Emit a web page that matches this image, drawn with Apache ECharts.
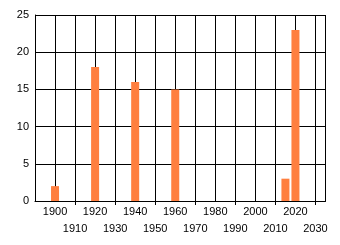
<!DOCTYPE html>
<html><head><meta charset="utf-8">
<script src="https://cdn.jsdelivr.net/npm/echarts@6/dist/echarts.min.js"></script>
<style>html,body{margin:0;padding:0;background:#fff}#c{width:340px;height:245px}</style>
</head><body><div id="c"></div>
<script>
var years = [1900, 1920, 1940, 1960, 2015, 2020];
var values = [2, 18, 16, 15, 3, 23];
var tickYears = [1910, 1930, 1950, 1970, 1990, 2010, 2030];
var xMin = 1890, xMax = 2035, xStep = 10;
var yMin = 0, yMax = 25, yStep = 5;

var chart = echarts.init(document.getElementById('c'), null, {renderer: 'canvas'});
var font = 'Liberation Sans';
chart.setOption({
  animation: false,
  grid: {left: 35, right: 14.5, top: 15, bottom: 44},
  xAxis: {
    type: 'value', min: xMin, max: xMax, interval: xStep,
    axisLine: {show: true, onZero: false, lineStyle: {color: '#000', width: 1}},
    axisTick: {show: false},
    splitLine: {show: true, lineStyle: {color: '#000', width: 1}},
    axisLabel: {
      margin: 2, fontSize: 11, fontFamily: font, color: '#000', lineHeight: 17,
      showMaxLabel: false, showMinLabel: false,
      formatter: function (v) {
        if (v < 1900 || v > 2030 || v % 10 !== 0) return '';
        return ((v / 10) % 2 === 1) ? '\n' + v : '' + v;
      }
    }
  },
  yAxis: {
    type: 'value', min: yMin, max: yMax, interval: yStep,
    axisLine: {show: true, lineStyle: {color: '#000', width: 1}},
    axisTick: {show: false},
    splitLine: {show: true, lineStyle: {color: '#000', width: 1}},
    axisLabel: {margin: 6, fontSize: 11, fontFamily: font, color: '#000'}
  },
  series: [{
    type: 'bar', barWidth: 8,
    itemStyle: {color: '#ff7f3f'},
    data: years.map(function (y, i) { return [y, values[i]]; })
  }, {
    type: 'custom', clip: false, silent: true,
    data: tickYears.map(function (y) { return [y, 0]; }),
    renderItem: function (params, api) {
      var p = api.coord([api.value(0), 0]);
      return {type: 'line', shape: {x1: Math.round(p[0]) + 0.5, y1: p[1], x2: Math.round(p[0]) + 0.5, y2: p[1] + 4},
        style: {stroke: '#000', lineWidth: 1}};
    }
  }]
});
</script></body></html>
